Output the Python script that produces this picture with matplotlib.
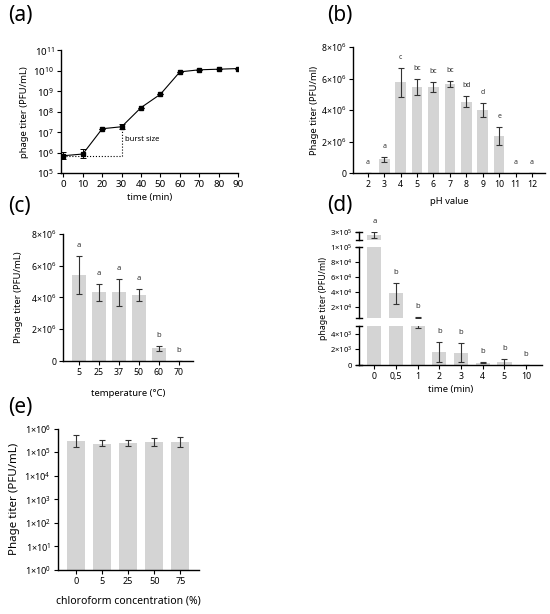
import numpy as np
import matplotlib.pyplot as plt
from matplotlib.ticker import FixedLocator, FuncFormatter, NullLocator

plt.rcParams['font.family'] = ['Noto Sans', 'DejaVu Sans']

# (a) one-step growth curve
t_min = [0, 10, 20, 30, 40, 50, 60, 70, 80, 90]
titer_a = [7.1e5, 8.6e5, 1.48e7, 1.85e7, 1.6e8, 7.2e8, 8.9e9, 1.12e10, 1.2e10, 1.29e10]
err_a_lo = [2.4e5, 3.1e5, 0, 0.37e7, 0, 0, 0, 0, 0, 0]
err_a_hi = [3.7e5, 7.4e5, 0, 0.65e7, 0, 0, 0, 0, 0, 0]
burst_low = 6.9e5

# (b) pH stability
ph = [2, 3, 4, 5, 6, 7, 8, 9, 10, 11, 12]
titer_b = [0, 0.89e6, 5.77e6, 5.47e6, 5.47e6, 5.68e6, 4.55e6, 4.0e6, 2.34e6, 0, 0]
err_b = [0, 0.15e6, 0.9e6, 0.5e6, 0.3e6, 0.2e6, 0.35e6, 0.44e6, 0.57e6, 0, 0]
let_b = ['a', 'a', 'c', 'bc', 'bc', 'bc', 'bd', 'd', 'e', 'a', 'a']

# (c) temperature stability
temp_lbl = ['5', '25', '37', '50', '60', '70']
titer_c = [5.41e6, 4.32e6, 4.32e6, 4.15e6, 0.8e6, 0]
err_c = [1.2e6, 0.53e6, 0.85e6, 0.37e6, 0.14e6, 0]
let_c = ['a', 'a', 'a', 'a', 'b', 'b']

# (d) UV exposure (broken axis)
time_lbl = ['0', '0,5', '1', '2', '3', '4', '5', '10']
titer_d = [2.8e5, 3.8e4, 5.3e3, 1.65e3, 1.6e3, 0.3e3, 0.35e3, 0]
err_d = [0.2e5, 1.4e4, 0.6e3, 1.3e3, 1.2e3, 0.1e3, 0.45e3, 0]
let_d = ['a', 'b', 'b', 'b', 'b', 'b', 'b', 'b']

# (e) chloroform
chl_lbl = ['0', '5', '25', '50', '75']
titer_e = [2.9e5, 2.3e5, 2.4e5, 2.6e5, 2.6e5]
err_e_lo = [1.3e5, 0.5e5, 0.65e5, 0.8e5, 1.0e5]
err_e_hi = [2.5e5, 1.0e5, 1.0e5, 1.3e5, 1.9e5]

BAR = '#d4d4d4'
FS_TICK = 6.3
FS_LAB = 6.8


def style(ax):
    ax.spines['top'].set_visible(False)
    ax.spines['right'].set_visible(False)
    ax.spines['left'].set_linewidth(1.0)
    ax.spines['bottom'].set_linewidth(1.0)
    ax.tick_params(length=3, width=0.8, labelsize=FS_TICK, pad=2)
    ax.yaxis.set_minor_locator(NullLocator())


def sci(mant, exp):
    return r'$\mathdefault{' + mant + r'{\times}10^{' + str(exp) + r'}}$'


def lin_fmt(v, pos):
    if v == 0:
        return '0'
    return sci(str(int(round(v / 1e6))), 6)


fig = plt.figure(figsize=(5.5, 6.14), dpi=100)

# ---- (a)
ax = fig.add_axes([0.111, 0.718, 0.322, 0.200])
ax.errorbar(t_min, titer_a, yerr=[err_a_lo, err_a_hi], fmt='-s', ms=2.2, color='k',
            lw=0.8, elinewidth=0.7, capsize=2, capthick=0.7)
ax.plot([0, 30], [burst_low, burst_low], ':', color='k', lw=0.8)
ax.plot([30, 30], [burst_low, titer_a[3]], ':', color='k', lw=0.8)
ax.text(31.5, 4.5e6, 'burst size', fontsize=5.5, va='center')
ax.set_yscale('log')
ax.set_ylim(1e5, 1e11)
ax.set_xlim(-1.2, 90)
ax.set_xticks(t_min)
ax.yaxis.set_major_locator(FixedLocator([10.0 ** k for k in range(5, 12)]))
ax.yaxis.set_major_formatter(FuncFormatter(
    lambda v, p: r'$\mathdefault{10^{' + str(int(round(np.log10(v)))) + r'}}$'))
style(ax)
ax.tick_params(labelsize=7)
ax.set_xlabel('time (min)', fontsize=FS_LAB, labelpad=3)
ax.set_ylabel('phage titer (PFU/mL)', fontsize=FS_LAB, labelpad=3)

# ---- (b)
ax = fig.add_axes([0.642, 0.718, 0.349, 0.205])
ax.bar(ph, titer_b, width=0.65, color=BAR)
ax.errorbar(ph, titer_b, yerr=err_b, fmt='none', ecolor='#333333', elinewidth=0.8,
            capsize=2.5, capthick=0.8)
for x, v, e, s in zip(ph, titer_b, err_b, let_b):
    ax.annotate(s, (x, v + e), xytext=(0, 5), textcoords='offset points', ha='center',
                va='bottom', fontsize=5, color='#333333', annotation_clip=False)
ax.set_ylim(0, 8e6)
ax.set_xlim(1.1, 12.8)
ax.set_xticks(ph)
ax.yaxis.set_major_locator(FixedLocator([0, 2e6, 4e6, 6e6, 8e6]))
ax.yaxis.set_major_formatter(FuncFormatter(lin_fmt))
style(ax)
ax.set_xlabel('pH value', fontsize=FS_LAB, labelpad=6)
ax.set_ylabel('Phage titer (PFU/ml)', fontsize=FS_LAB, labelpad=1)

# ---- (c)
ax = fig.add_axes([0.115, 0.412, 0.235, 0.207])
xc = np.arange(len(temp_lbl))
ax.bar(xc, titer_c, width=0.7, color=BAR)
ax.errorbar(xc, titer_c, yerr=err_c, fmt='none', ecolor='#333333', elinewidth=0.8,
            capsize=2.5, capthick=0.8)
for x, v, e, s in zip(xc, titer_c, err_c, let_c):
    ax.annotate(s, (x, v + e), xytext=(0, 5), textcoords='offset points', ha='center',
                va='bottom', fontsize=5.5, color='#333333', annotation_clip=False)
ax.set_ylim(0, 8e6)
ax.set_xlim(-0.8, 5.7)
ax.set_xticks(xc)
ax.set_xticklabels(temp_lbl)
ax.yaxis.set_major_locator(FixedLocator([0, 2e6, 4e6, 6e6, 8e6]))
ax.yaxis.set_major_formatter(FuncFormatter(lin_fmt))
style(ax)
ax.set_xlabel('temperature (°C)', fontsize=FS_LAB, labelpad=9)
ax.set_ylabel('Phage titer (PFU/mL)', fontsize=FS_LAB, labelpad=6)

# ---- (d) broken axis: three stacked segments
H = 614.0
segs = [  # (top px, bottom px, ylim, ticks)
    (232, 240, (2.5e5, 3.0e5), [3e5]),
    (247, 318, (5e3, 1e5), [2e4, 4e4, 6e4, 8e4, 1e5]),
    (326, 365, (0, 5e3), [0, 2e3, 4e3]),
]
xd = np.arange(len(time_lbl))
d_axes = []
for i, (top, bot, lim, ticks) in enumerate(segs):
    ax = fig.add_axes([0.653, 1 - bot / H, 0.333, (bot - top) / H])
    ax.bar(xd, titer_d, width=0.66, color=BAR)
    ax.errorbar(xd, titer_d, yerr=err_d, fmt='none', ecolor='#333333', elinewidth=0.8,
                capsize=2.5, capthick=0.8)
    ax.set_ylim(*lim)
    ax.set_xlim(-0.7, 7.75)
    style(ax)
    ax.yaxis.set_major_locator(FixedLocator(ticks))
    exps = {3e5: ('3', 5), 1e5: ('1', 5), 8e4: ('8', 4), 6e4: ('6', 4), 4e4: ('4', 4),
            2e4: ('2', 4), 4e3: ('4', 3), 2e3: ('2', 3)}
    ax.yaxis.set_major_formatter(FuncFormatter(
        lambda v, p, ex=exps: '0' if v == 0 else sci(*ex[min(ex, key=lambda k: abs(k - v))])))
    ax.tick_params(axis='y', labelsize=5.5)
    # break caps on the spine ends
    for yy in (0, 1):
        ax.plot([-0.015, 0.015], [yy, yy], color='k', lw=1.0, transform=ax.transAxes,
                clip_on=False)
    if i < 2:
        ax.spines['bottom'].set_visible(False)
        ax.tick_params(axis='x', bottom=False, labelbottom=False)
    else:
        ax.set_xticks(xd)
        ax.set_xticklabels(time_lbl)
    d_axes.append(ax)

for x, v, e, s in zip(xd, titer_d, err_d, let_d):
    top_v = v + e
    if top_v >= 1e5:
        ax = d_axes[0]
    elif top_v >= 5e3:
        ax = d_axes[1]
    else:
        ax = d_axes[2]
    ax.annotate(s, (x, top_v), xytext=(0, 5), textcoords='offset points', ha='center',
                va='bottom', fontsize=5.5, color='#333333', annotation_clip=False)
d_axes[2].set_xlabel('time (min)', fontsize=FS_LAB, labelpad=3)
fig.text(323 / 550, 1 - 298 / H, 'phage titer (PFU/ml)', rotation=90, ha='center',
         va='center', fontsize=6.3)

# ---- (e)
ax = fig.add_axes([0.105, 0.072, 0.256, 0.230])
xe = np.arange(len(chl_lbl))
ax.bar(xe, titer_e, width=0.7, color=BAR, bottom=0)
ax.errorbar(xe, titer_e, yerr=[err_e_lo, err_e_hi], fmt='none', ecolor='#333333',
            elinewidth=0.8, capsize=2.5, capthick=0.8)
ax.set_yscale('log')
ax.set_ylim(1, 1e6)
ax.set_xlim(-0.7, 4.7)
ax.set_xticks(xe)
ax.set_xticklabels(chl_lbl)
ax.yaxis.set_major_locator(FixedLocator([10.0 ** k for k in range(7)]))
ax.yaxis.set_major_formatter(FuncFormatter(lambda v, p: sci('1', int(round(np.log10(v))))))
style(ax)
ax.tick_params(labelsize=6.5)
ax.set_xlabel('chloroform concentration (%)', fontsize=7.5, labelpad=7)
ax.set_ylabel('Phage titer (PFU/mL)', fontsize=8.3, labelpad=3)

# panel letters
for s, x, y in [('(a)', 8, 16), ('(b)', 327, 16), ('(c)', 8, 207), ('(d)', 327, 206),
                ('(e)', 8, 408)]:
    fig.text(x / 550, 1 - y / H, s, fontsize=15, va='center', ha='left')

fig.savefig('out.png', dpi=100)
